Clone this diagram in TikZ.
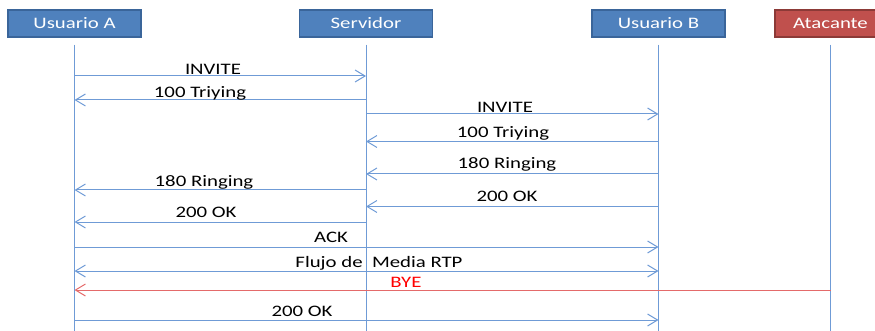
\documentclass[tikz,border=0pt]{standalone}
\usepackage{fontspec}
\setmainfont{Carlito}
\usetikzlibrary{arrows.meta}

\definecolor{boxblue}{HTML}{4F81BD}
\definecolor{boxblueline}{HTML}{3A659A}
\definecolor{boxred}{HTML}{C0504D}
\definecolor{boxredline}{HTML}{8C3A37}
\definecolor{lineblue}{HTML}{6F9BD6}
\definecolor{linered}{HTML}{E46A6A}

\tikzset{
  actor/.style={draw=boxblueline, fill=boxblue, line width=1.2pt, text=white,
    minimum width=102.3pt, minimum height=27pt, inner sep=0pt,
    font=\fontsize{16pt}{18pt}\selectfont, xscale=1.3, transform shape},
  life/.style={draw=lineblue, line width=1pt},
  msgline/.style={draw=lineblue, line width=1pt},
  msglabel/.style={anchor=base, inner sep=0pt,
    font=\fontsize{16pt}{18pt}\selectfont, xscale=1.3, transform shape},
  tip/.tip={Straight Barb[length=10pt,width=12pt,line width=1pt]}
}

\begin{document}
\begin{tikzpicture}[x=1pt,y=-1pt]
\newcommand\msg[7]{%
\draw [msgline,#1] (#2 |- 0,#4) -- (#3 |- 0,#4);%
\node (#5) at (#6) [msglabel] {#7};%
}
\clip (0,0) rectangle (875,331);

% participants
\node (ua) at (74.5,23.5) [actor] {Usuario A};
\node (sv) at (366,23.5) [actor] {Servidor};
\node (ub) at (658.5,23.5) [actor] {Usuario B};
\node (at) at (830.5,23.5) [actor, fill=boxred, draw=boxredline, minimum width=85.4pt] {Atacante};

% lifelines
\draw [life, shorten <=7pt] (ua.south) -- (ua |- 0,331);
\draw [life, shorten <=7pt] (sv.south) -- (sv |- 0,331);
\draw [life, shorten <=7pt] (ub.south) -- (ub |- 0,331);
\draw [life, shorten <=7pt] (at.south) -- (at |- 0,331);

% messages
\msg{-tip}{ua}{sv}{76}{m1}{213,75}{INVITE}
\msg{tip-}{ua}{sv}{100}{m2}{200,97.5}{100 Triying}
\msg{-tip}{sv}{ub}{114}{m3}{505,112.5}{INVITE}
\msg{tip-}{sv}{ub}{141.5}{m4}{503,137.5}{100 Triying}
\msg{tip-}{sv}{ub}{174}{m5}{507,169}{180 Ringing}
\msg{tip-}{ua}{sv}{190}{m6}{204,186.5}{180 Ringing}
\msg{tip-}{sv}{ub}{206.5}{m7}{507,202}{200 OK}
\msg{tip-}{ua}{sv}{222}{m8}{206,218}{200 OK}
\msg{-tip}{ua}{ub}{247}{m9}{331,242}{ACK}
\msg{tip-tip}{ua}{ub}{271}{m10}{379,267}{Flujo de\ \ Media RTP}
\msg{tip-,draw=linered}{ua}{at}{290}{m11}{406,287}{\textcolor{red}{BYE}}
\msg{-tip}{ua}{ub}{320}{m12}{302,316}{200 OK}
\end{tikzpicture}
\end{document}
